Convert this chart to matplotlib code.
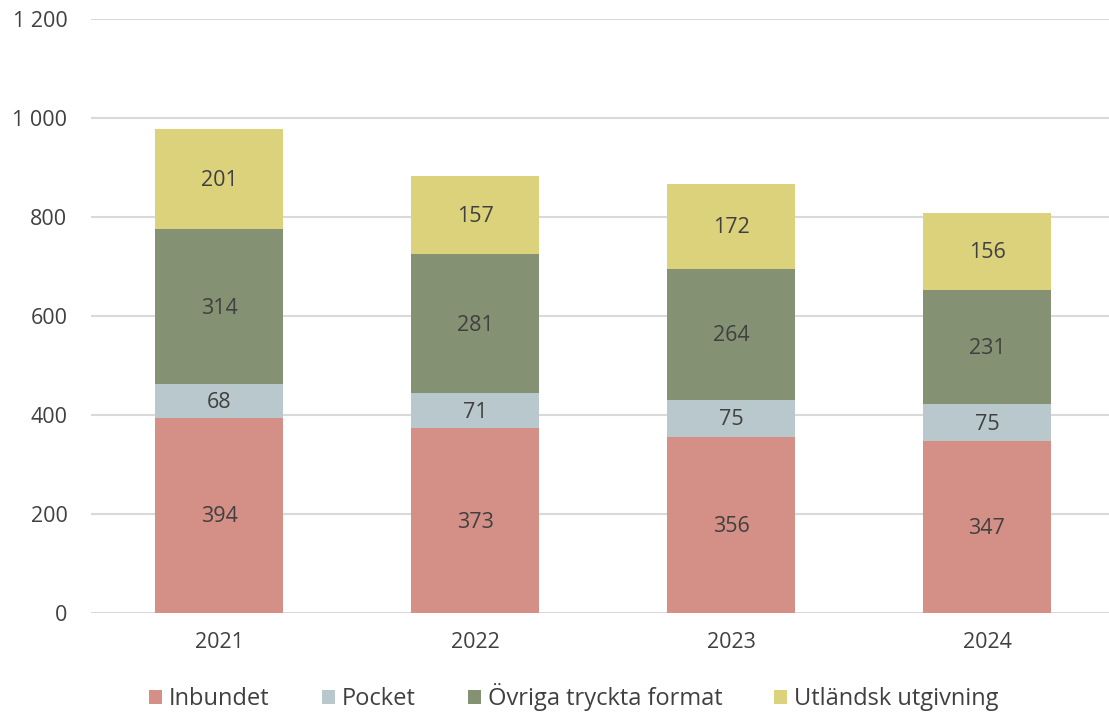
import matplotlib
matplotlib.use("Agg")
import matplotlib.pyplot as plt
from matplotlib.ticker import FuncFormatter

years = ["2021", "2022", "2023", "2024"]
inbundet = [394, 373, 356, 347]
pocket = [68, 71, 75, 75]
ovriga = [314, 281, 264, 231]
utlandsk = [201, 157, 172, 156]
series_names = ["Inbundet", "Pocket", "Övriga tryckta format", "Utländsk utgivning"]
colors = ["#D48F86", "#B8C8CD", "#849273", "#DCD27C"]

plt.rcParams['font.family'] = ['Open Sans', 'DejaVu Sans']
txt = "#404040"

fig = plt.figure(figsize=(11.09, 7.13), dpi=100)
W, H = 1109, 713
ax = fig.add_axes([91/W, (H-613)/H, (1109-91)/W, 594/H])

x = list(range(len(years)))
bottom = [0]*len(years)
for vals, name, c in zip([inbundet, pocket, ovriga, utlandsk], series_names, colors):
    ax.bar(x, vals, width=0.5, bottom=bottom, color=c, label=name, zorder=3)
    for xi, v, b in zip(x, vals, bottom):
        ax.text(xi, b + v/2 - 3, f"{v}", ha='center', va='center', fontsize=15.5, color=txt, zorder=4)
    bottom = [b + v for b, v in zip(bottom, vals)]

ax.set_xlim(-0.5, 3.5 - 6/256)
ax.set_ylim(0, 1200)
ax.set_yticks(range(0, 1201, 200))
ax.yaxis.set_major_formatter(FuncFormatter(lambda v, p: f"{int(v):,}".replace(",", " ")))
ax.set_xticks(x)
ax.set_xticklabels(years)
ax.grid(axis='y', color='#D9D9D9', linewidth=1.5, zorder=0)
for s in ax.spines.values():
    s.set_visible(False)
ax.tick_params(axis='both', length=0, labelsize=15.5, colors=txt)
ax.tick_params(axis='y', pad=17)
ax.tick_params(axis='x', pad=14)

handles, labels = ax.get_legend_handles_labels()
fig.legend(handles, labels, loc='center', bbox_to_anchor=(574/W, 1-697/H), ncol=4,
           frameon=False, fontsize=17, handlelength=0.55, handleheight=0.55,
           handletextpad=0.3, columnspacing=2.2, labelcolor=txt)

fig.savefig("out.png", dpi=100)
